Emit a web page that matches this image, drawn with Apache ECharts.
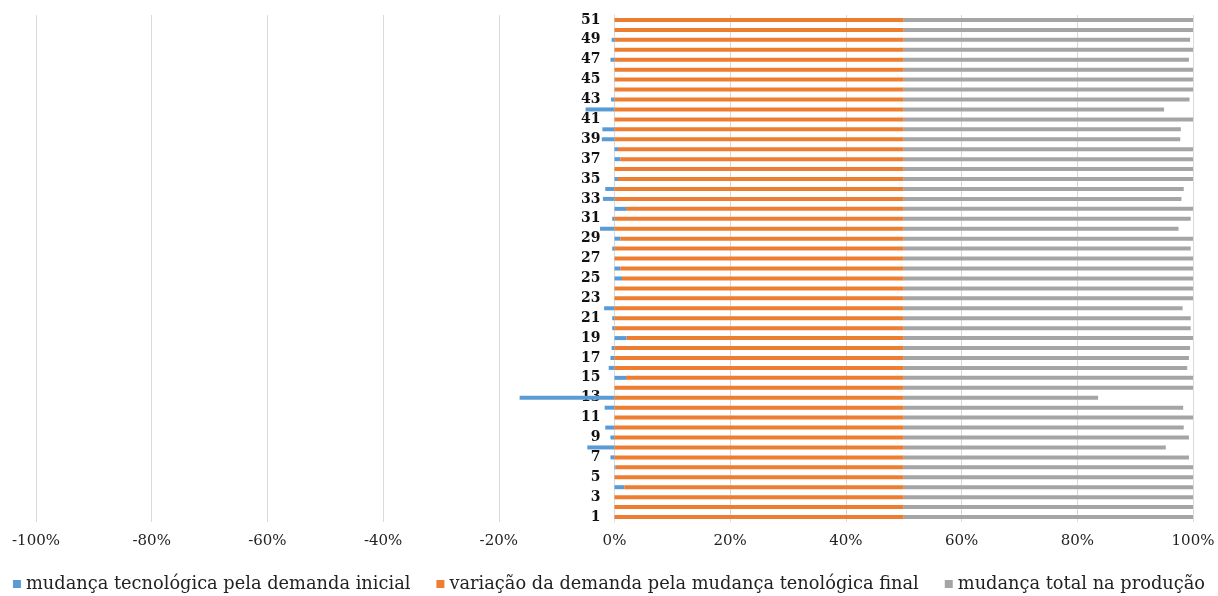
<!DOCTYPE html>
<html>
<head>
<meta charset="utf-8">
<script src="https://cdn.jsdelivr.net/npm/echarts@6/dist/echarts.min.js"></script>
<style>
  html, body { margin: 0; padding: 0; background: #ffffff; }
  #chart { width: 1218px; height: 596px; }
</style>
</head>
<body>
<div id="chart"></div>
<script>
// Sectors 1..51
const categories = Array.from({ length: 51 }, (_, i) => String(i + 1));

// Shares in percent, per sector (1 → 51)
const mudancaTecnologica = [
  0, 0, 0, 1.7, 0, 0.2, -0.7, -4.7, -0.7, -1.6,
  0, -1.7, -16.4, 0, 2.0, -1.0, -0.7, -0.5, 2.1, -0.4,
  -0.4, -1.8, 0, 0, 1.3, 1.0, 0, -0.4, 1.0, -2.5,
  -0.4, 2.0, -2.0, -1.6, 0.6, 0, 1.0, 0.6, -2.2, -2.1,
  0, -5.0, -0.6, 0, 0, 0, -0.7, 0, -0.5, 0,
  0
];

const variacaoDemanda = [
  50, 50, 50, 48.3, 50, 49.8, 50, 50, 50, 50,
  50, 50, 50, 50, 48.0, 50, 50, 50, 47.9, 50,
  50, 50, 50, 50, 48.7, 49.0, 50, 50, 49.0, 50,
  50, 48.0, 50, 50, 49.4, 50, 49.0, 49.4, 50, 50,
  50, 50, 50, 50, 50, 50, 50, 50, 50, 50,
  50
];

const mudancaTotal = [
  50, 50, 50, 50, 50, 50, 49.3, 45.3, 49.3, 48.4,
  50, 48.3, 33.6, 50, 50, 49.0, 49.3, 49.5, 50, 49.6,
  49.6, 48.2, 50, 50, 50, 50, 50, 49.6, 50, 47.5,
  49.6, 50, 48.0, 48.4, 50, 50, 50, 50, 47.8, 47.9,
  50, 45.0, 49.4, 50, 50, 50, 49.3, 50, 49.5, 50,
  50
];

const seriesNames = [
  'mudança tecnológica pela demanda inicial',
  'variação da demanda pela mudança tenológica final',
  'mudança total na produção'
];
const seriesColors = ['#5B9BD5', '#ED7D31', '#A5A5A5'];
const seriesData = [mudancaTecnologica, variacaoDemanda, mudancaTotal];

const serif = 'DejaVu Serif';
const CHART_W = 1218;
const GRID_LEFT = 36;
const GRID_RIGHT = 25;
const X_MIN = -100;
const X_MAX = 100;

// The category axis sits on the 0% line, so shift it from the grid's left edge.
const plotW = CHART_W - GRID_LEFT - GRID_RIGHT;
const zeroOffset = plotW * (0 - X_MIN) / (X_MAX - X_MIN);

const chart = echarts.init(document.getElementById('chart'), null, { renderer: 'canvas' });

chart.setOption({
  animation: false,
  backgroundColor: '#ffffff',
  grid: { left: GRID_LEFT, right: GRID_RIGHT, top: 15, bottom: 74, containLabel: false },
  xAxis: {
    type: 'value',
    min: X_MIN,
    max: X_MAX,
    interval: 20,
    axisLine: { show: false },
    axisTick: { show: false },
    splitLine: { show: true, lineStyle: { color: '#d9d9d9', width: 1 } },
    axisLabel: {
      margin: 12,
      fontFamily: serif,
      fontSize: 15,
      color: '#222',
      formatter: v => v + '%'
    }
  },
  yAxis: {
    type: 'category',
    data: categories,
    offset: -zeroOffset,
    axisLine: { show: true, onZero: false, lineStyle: { color: '#d9d9d9' } },
    axisTick: { show: false },
    axisLabel: {
      interval: 1,
      margin: 14,
      fontFamily: serif,
      fontWeight: 'bold',
      fontSize: 14,
      color: '#111'
    }
  },
  legend: {
    top: 570,
    left: 'center',
    itemWidth: 8,
    itemHeight: 8,
    itemGap: 26,
    icon: 'rect',
    textStyle: { fontFamily: serif, fontSize: 17.8, color: '#222' },
    data: seriesNames
  },
  series: seriesNames.map((name, i) => ({
    name,
    type: 'bar',
    stack: 'total',
    barWidth: 4,
    itemStyle: { color: seriesColors[i] },
    data: seriesData[i]
  }))
});
</script>
</body>
</html>
